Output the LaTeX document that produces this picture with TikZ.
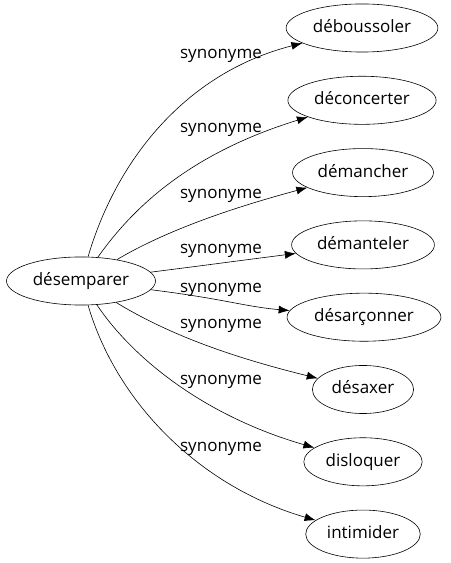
\documentclass[tikz,border=0pt]{standalone}
\usepackage{fontspec}
\setmainfont{Open Sans}
\usepackage{tikz}
\usetikzlibrary{arrows.meta}
\usetikzlibrary{shapes.geometric}

\begin{document}
\begin{tikzpicture}[>={Latex[length=11bp,width=8bp]},line join=bevel,line width=0.6bp,
  word/.style={ellipse,draw,inner xsep=4.5bp,inner ysep=8.5bp,text height=13bp,text depth=4bp,font=\fontsize{17bp}{20bp}\selectfont},
  rel/.style={font=\fontsize{17bp}{20bp}\selectfont,inner sep=0bp}]
%%
\useasboundingbox (0bp,0bp) rectangle (451bp,563bp);
\node (node_0) at (81bp,282bp) [word] {désemparer};
  \node (node_1) at (362bp,535bp) [word] {déboussoler};
  \node (node_2) at (362bp,462.7bp) [word] {déconcerter};
  \node (node_3) at (363bp,390.4bp) [word] {démancher};
  \node (node_4) at (363bp,318.1bp) [word] {démanteler};
  \node (node_5) at (364bp,245.8bp) [word] {désarçonner};
  \node (node_6) at (363bp,173.5bp) [word] {désaxer};
  \node (node_7) at (363bp,101.2bp) [word] {disloquer};
  \node (node_8) at (363bp,28.9bp) [word] {intimider};
  \node (lbl_1) at (221bp,507bp) [rel] {synonyme};
  \node (lbl_2) at (221bp,433bp) [rel] {synonyme};
  \node (lbl_3) at (221bp,367bp) [rel] {synonyme};
  \node (lbl_4) at (221bp,312bp) [rel] {synonyme};
  \node (lbl_5) at (221bp,273bp) [rel] {synonyme};
  \node (lbl_6) at (221bp,237bp) [rel] {synonyme};
  \node (lbl_7) at (221bp,181bp) [rel] {synonyme};
  \node (lbl_8) at (221bp,114bp) [rel] {synonyme};
  \draw [black,->] (node_0) ..controls (116bp,402bp) and (185bp,490bp)  .. (node_1);
  \draw [black,->] (node_0) ..controls (132bp,354bp) and (188bp,409bp)  .. (node_2);
  \draw [black,->] (node_0) ..controls (173.5bp,337bp) and (249bp,359.6bp)  .. (node_3);
  \draw [black,->] (node_0) ..controls (223bp,300bp) and (221bp,300bp)  .. (node_4);
  \draw [black,->] (node_0) ..controls (225bp,264bp) and (244bp,256.5bp)  .. (node_5);
  \draw [black,->] (node_0) ..controls (171bp,227bp) and (235.5bp,205bp)  .. (node_6);
  \draw [black,->] (node_0) ..controls (129bp,210bp) and (198bp,149bp)  .. (node_7);
  \draw [black,->] (node_0) ..controls (116bp,162bp) and (198bp,77bp)  .. (node_8);
%
\end{tikzpicture}
\end{document}
